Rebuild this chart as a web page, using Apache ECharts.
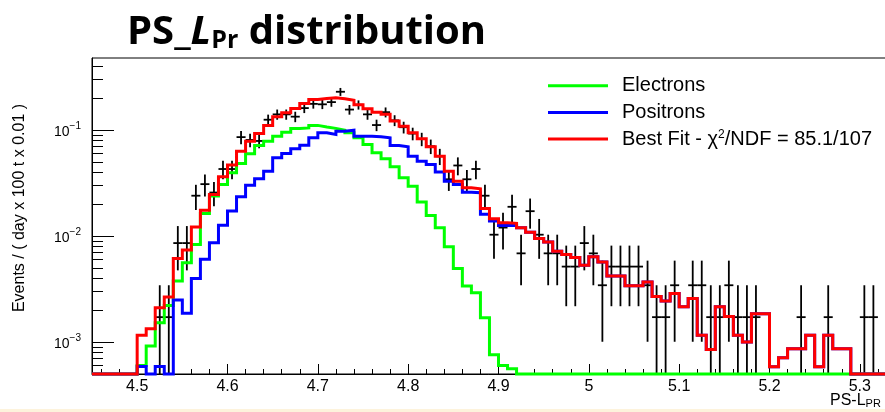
<!DOCTYPE html>
<html><head><meta charset="utf-8">
<script src="https://cdn.jsdelivr.net/npm/echarts@6/dist/echarts.min.js"></script>
<style>html,body{margin:0;padding:0;background:#fff;}#c{width:885px;height:412px;}</style>
</head><body><div id="c"></div>
<script>
// ---- data (bins of width 0.01, left edges) ----
const binLeft = [4.45,4.46,4.47,4.48,4.49,4.50,4.51,4.52,4.53,4.54,4.55,4.56,4.57,4.58,4.59,4.60,4.61,4.62,4.63,4.64,4.65,4.66,4.67,4.68,4.69,4.70,4.71,4.72,4.73,4.74,4.75,4.76,4.77,4.78,4.79,4.80,4.81,4.82,4.83,4.84,4.85,4.86,4.87,4.88,4.89,4.90,4.91,4.92,4.93,4.94,4.95,4.96,4.97,4.98,4.99,5.00,5.01,5.02,5.03,5.04,5.05,5.06,5.07,5.08,5.09,5.10,5.11,5.12,5.13,5.14,5.15,5.16,5.17,5.18,5.19,5.20,5.21,5.22,5.23,5.24,5.25,5.26,5.27,5.28,5.29,5.30,5.31,5.32,5.33,5.34];
const binWidth = 0.01;

const electrons = [null,null,null,null,null,
 6.0e-4,9.2e-4,1.52e-3,2.22e-3,3.77e-3,
 5.61e-3,8.35e-3,1.64e-2,2.39e-2,3.07e-2,
 3.96e-2,4.85e-2,5.99e-2,7.18e-2,7.87e-2,
 8.77e-2,9.57e-2,0.104,0.105,0.111,
 0.107,0.104,0.100,0.0945,0.0848,
 0.0733,0.0612,0.0537,0.0451,0.0355,
 0.0296,0.0210,0.0157,0.0120,0.00795,
 0.00494,0.00338,0.00293,0.00170,7.6e-4,
 6.0e-4,5.6e-4,null,null,null,
 null,null,null,null,null, null,null,null,null,null,
 null,null,null,null,null, null,null,null,null,null,
 null,null,null,null,null, null,null,null,null,null,
 null,null,null,null,null, null,null,null,null,null];

const positrons = [null,null,null,null,null,
 5.9e-4,null,5.9e-4,null,2.49e-3,
 1.87e-3,3.98e-3,6.05e-3,8.66e-3,1.27e-2,
 1.73e-2,2.36e-2,3.03e-2,3.49e-2,4.10e-2,
 5.49e-2,6.03e-2,6.67e-2,7.2e-2,8.5e-2,
 0.0945,0.0911,0.0979,0.100,0.0878,
 0.0878,0.0866,0.0848,0.0717,0.0697,
 0.0569,0.0510,0.0475,0.0402,0.0330,
 0.0308,0.0260,0.0257,0.0161,0.0139,
 0.0126,0.0126,0.0120,0.0109,0.0095,
 0.0088,0.0072,0.0067,0.0063,0.0053,
 0.0064,0.0057,0.0042,0.0042,0.0034,
 0.0034,0.0037,0.0027,0.00244,0.00288,
 0.00216,0.00258,0.00116,8.5e-4,0.00216,
 0.00174,0.00116,0.0010,0.00185,0.00185,
 5.86e-4,7.1e-4,8.67e-4,8.67e-4,0.00116,
 5.86e-4,0.00116,8.67e-4,8.67e-4,null,
 null,null,null,null,null];

const bestFit = [null,null,null,null,null,
 1.16e-3,1.34e-3,2.11e-3,2.66e-3,6.16e-3,
 7.38e-3,1.22e-2,1.76e-2,2.47e-2,3.63e-2,
 4.68e-2,6.34e-2,7.87e-2,9.3e-2,0.111,
 0.134,0.146,0.160,0.179,0.195,
 0.199,0.202,0.198,0.192,0.174,
 0.159,0.148,0.141,0.122,0.109,
 0.0945,0.0830,0.0697,0.0569,0.0410,
 0.0330,0.0286,0.0280,0.0182,0.0146,
 0.0134,0.0132,0.0120,0.0109,0.0095,
 0.0088,0.0072,0.0067,0.0063,0.0053,
 0.0064,0.0057,0.0042,0.0042,0.0034,
 0.0034,0.0037,0.0027,0.00244,0.00288,
 0.00216,0.00258,0.00116,8.5e-4,0.00216,
 0.00174,0.00116,0.0010,0.00185,0.00185,
 5.86e-4,7.1e-4,8.67e-4,8.67e-4,0.00116,
 5.86e-4,0.00116,8.67e-4,8.67e-4,null,
 null,null,null,null,null];

// observed events per bin (each event weighs eventWeight on the y scale)
const dataCounts = [0,0,0,0,0,0,0,1,1,5,
 5,14,18,15,25,
 25,50,47,46,73,
 82,82,78,94,103,
 102,107,134,91,101,
 82,65,86,72,62,
 54,48,41,33,20,
 27,20,25,14,6,
 7,11,4,10,6,
 4,4,3,3,5,
 4,2,3,3,3,
 3,2,1,1,2,
 0,2,2,1,1,
 2,1,1,1,0,
 0,0,0,1,0,
 0,1,0,0,0,
 1,1,0,0,0];
const eventWeight = 1.72e-3;

const xTickLabels = [4.5,4.6,4.7,4.8,4.9,5,5.1,5.2,5.3];
const xMinorTicks = [4.46,4.48,4.52,4.54,4.56,4.58,4.62,4.64,4.66,4.68,4.72,4.74,4.76,4.78,4.82,4.84,4.86,4.88,4.92,4.94,4.96,4.98,5.02,5.04,5.06,5.08,5.12,5.14,5.16,5.18,5.22,5.24,5.26,5.28,5.32,5.34];
const yTickLabels = [1e-3,1e-2,1e-1];
const yMinorTicks = [6e-4,7e-4,8e-4,9e-4,2e-3,3e-3,4e-3,5e-3,6e-3,7e-3,8e-3,9e-3,2e-2,3e-2,4e-2,5e-2,6e-2,7e-2,8e-2,9e-2,0.2,0.3,0.4];
const X_MIN = 4.45, X_MAX = 5.35, Y_MIN = 5e-4, Y_MAX = 0.48;

// ---- build ----
function stepData(vals){
  const pts = vals.map((v,i)=>[binLeft[i], v==null?Y_MIN:v]);
  const last = vals.length-1;
  pts.push([binLeft[last]+binWidth, vals[last]==null?Y_MIN:vals[last]]);
  return pts;
}
const pointData = [];
dataCounts.forEach((n,i)=>{
  if(n>0){
    const y=n*eventWeight, e=Math.sqrt(n)*eventWeight;
    pointData.push([binLeft[i], binLeft[i]+binWidth, y, y-e, y+e]);
  }
});

const FONT = 'Liberation Sans, Arial, Helvetica, sans-serif';
const chart = echarts.init(document.getElementById('c'), null, {renderer:'canvas'});
const minusSign = '\u2212';
chart.setOption({
  animation:false,
  backgroundColor:'#ffffff',
  grid:{left:92, top:58, width:813, height:316, show:true, borderColor:'#000', borderWidth:1, backgroundColor:'#fff',
        outerBoundsMode:'none', containLabel:false},
  xAxis:[{
    type:'value', min:X_MIN, max:X_MAX, position:'bottom',
    axisLine:{show:true, onZero:false, lineStyle:{color:'#000', width:1}},
    axisTick:{show:true, inside:true, length:10, customValues:xTickLabels, lineStyle:{color:'#000', width:1}},
    axisLabel:{show:true, customValues:xTickLabels, formatter:v=>String(v), fontSize:16, fontFamily:FONT, color:'#000', margin:5},
    splitLine:{show:false}
  },{
    type:'value', min:X_MIN, max:X_MAX, position:'bottom',
    axisLine:{show:false},
    axisTick:{show:true, inside:true, length:5, customValues:xMinorTicks, lineStyle:{color:'#000', width:1}},
    axisLabel:{show:false}, splitLine:{show:false}
  }],
  yAxis:[{
    type:'log', logBase:10, min:Y_MIN, max:Y_MAX, position:'left',
    axisLine:{show:true, onZero:false, lineStyle:{color:'#000', width:1}},
    axisTick:{show:true, inside:true, length:22, customValues:yTickLabels, lineStyle:{color:'#000', width:1}},
    axisLabel:{show:true, customValues:yTickLabels, margin:11, color:'#000',
      formatter:v=>'{b|10}{s|'+minusSign+Math.round(-Math.log10(v))+'}',
      rich:{b:{fontSize:14, fontFamily:FONT, color:'#000', lineHeight:18, verticalAlign:'bottom'},
            s:{fontSize:10, fontFamily:FONT, color:'#000', lineHeight:18, verticalAlign:'top'}}},
    splitLine:{show:false}
  },{
    type:'log', logBase:10, min:Y_MIN, max:Y_MAX, position:'left',
    axisLine:{show:false},
    axisTick:{show:true, inside:true, length:11, customValues:yMinorTicks, lineStyle:{color:'#000', width:1}},
    axisLabel:{show:false}, splitLine:{show:false}
  }],
  legend:{
    data:['Electrons','Positrons','Best Fit'], orient:'vertical', left:548, top:75.7, padding:0,
    itemWidth:60, itemHeight:3, itemGap:6.7, icon:'rect', selectedMode:false,
    formatter:name=> name==='Best Fit' ? '{a|Best Fit - \u03c7}{s|2}{a|/NDF = 85.1/107}' : name,
    textStyle:{fontSize:20, fontFamily:FONT, color:'#000', lineHeight:20, padding:[0,0,0,9],
      rich:{a:{fontSize:20, fontFamily:FONT, color:'#000', lineHeight:20},
            s:{fontSize:12, fontFamily:FONT, color:'#000', lineHeight:15, verticalAlign:'top'}}}
  },
  series:[
    {type:'custom', name:'Data', z:2, clip:false, xAxisIndex:0, yAxisIndex:0,
     encode:{x:[0,1], y:[2,3,4]},
     renderItem:(params, api)=>{
       const l=api.value(0), r=api.value(1), y=api.value(2), lo=Math.max(api.value(3),Y_MIN), hi=api.value(4);
       const pL=api.coord([l,y]), pR=api.coord([r,y]);
       const c=(l+r)/2;
       const pH=api.coord([c,hi]), pLo=api.coord([c,lo]);
       const st={stroke:'#000', lineWidth:1.8};
       return {type:'group', children:[
         {type:'line', shape:{x1:pL[0],y1:pL[1],x2:pR[0],y2:pR[1]}, style:st},
         {type:'line', shape:{x1:pH[0],y1:pH[1],x2:pLo[0],y2:pLo[1]}, style:st}
       ]};
     },
     data:pointData},
    {type:'line', name:'Electrons', step:'end', data:stepData(electrons), symbol:'none', clip:false, z:3,
     color:'#00ff00', lineStyle:{color:'#00ff00', width:3, join:'miter'}},
    {type:'line', name:'Positrons', step:'end', data:stepData(positrons), symbol:'none', clip:false, z:4,
     color:'#0000ff', lineStyle:{color:'#0000ff', width:3, join:'miter'}},
    {type:'line', name:'Best Fit', step:'end', data:stepData(bestFit), symbol:'none', clip:false, z:5,
     color:'#ff0000', lineStyle:{color:'#ff0000', width:3, join:'miter'}}
  ],
  graphic:[
    {type:'text', left:127, top:13, z:10,
     style:{text:'{a|PS_}{i|L}{s|Pr}{a| distribution}', fill:'#000',
       rich:{a:{fontFamily:'Open Sans', fontWeight:'bold', fontSize:40, lineHeight:44, verticalAlign:'bottom', fill:'#000'},
             i:{fontFamily:'Open Sans', fontWeight:'bold', fontStyle:'italic', fontSize:40, lineHeight:44, verticalAlign:'bottom', fill:'#000'},
             s:{fontFamily:'Open Sans', fontWeight:'bold', fontSize:25, lineHeight:14, verticalAlign:'bottom', fill:'#000'}}}},
    {type:'text', x:20, y:208, rotation:Math.PI/2, z:10,
     style:{text:'Events / ( day x 100 t x 0.01 )', fontFamily:FONT, fontSize:16, fill:'#000', align:'center', verticalAlign:'middle'}},
    {type:'text', left:830, top:393, z:10,
     style:{text:'{a|PS-L}{s|PR}', fill:'#000',
       rich:{a:{fontFamily:FONT, fontSize:16, lineHeight:18, verticalAlign:'bottom', fill:'#000'},
             s:{fontFamily:FONT, fontSize:11, lineHeight:10, verticalAlign:'bottom', fill:'#000'}}}},
    {type:'rect', left:0, top:409, z:20, shape:{width:885, height:3}, style:{fill:'#fdf3dc'}}
  ]
});
</script>
</body></html>
